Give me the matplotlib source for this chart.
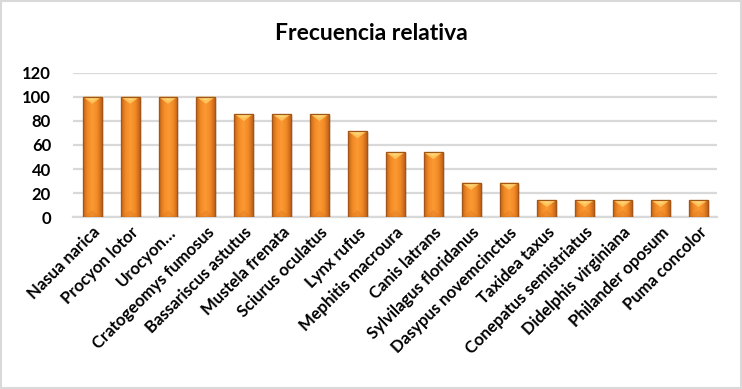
import matplotlib
matplotlib.use("Agg")
import matplotlib.pyplot as plt
import numpy as np
from matplotlib.patches import Polygon, Rectangle
from matplotlib.colors import LinearSegmentedColormap

species = ["Nasua narica", "Procyon lotor", "Urocyon…", "Cratogeomys fumosus",
           "Bassariscus astutus", "Mustela frenata", "Sciurus oculatus", "Lynx rufus",
           "Mephitis macroura", "Canis latrans", "Sylvilagus floridanus",
           "Dasypus novemcinctus", "Taxidea taxus", "Conepatus semistriatus",
           "Didelphis virginiana", "Philander oposum", "Puma concolor"]
values = [100, 100, 100, 100, 85.7, 85.7, 85.7, 71.4, 54, 54, 28.6, 28.6,
          14.3, 14.3, 14.3, 14.3, 14.3]
yticks = [0, 20, 40, 60, 80, 100, 120]
title = "Frecuencia relativa"

plt.rcParams['font.family'] = ['Lato', 'DejaVu Sans']

fig = plt.figure(figsize=(7.42, 3.89), dpi=100)
ax = fig.add_axes([0.0988, 0.4414, 0.868, 0.3717])

x = np.arange(len(species))
bw = 0.5
bars = ax.bar(x, values, width=bw, color="#F7922D", edgecolor="#B5631C",
              linewidth=0.8, zorder=3)

ax.set_xlim(-0.5, len(species) - 0.5)
ax.set_ylim(0, 120)

fig.canvas.draw()
bbox = ax.get_window_extent()
ypp = 120 / bbox.height
xpp = len(species) / bbox.width

cmap = LinearSegmentedColormap.from_list("o", ["#C2641A", "#F38B26", "#FB9A33", "#F38B26", "#C2641A"])
grad = np.linspace(0, 1, 64).reshape(1, -1)
for b in bars:
    bx, by, w, h = b.get_x(), b.get_y(), b.get_width(), b.get_height()
    ax.add_patch(Rectangle((bx + 2 * xpp, by), w, h - 1 * ypp, facecolor="#000000",
                           alpha=0.10, zorder=2, linewidth=0))
    im = ax.imshow(grad, extent=(bx, bx + w, by, by + h), aspect='auto',
                   cmap=cmap, zorder=3.1, interpolation='bicubic')
    im.set_clip_path(b)
    d = 7 * ypp
    ax.add_patch(Polygon([(bx, by + h), (bx + w, by + h), (bx + w / 2, by + h - d)],
                         closed=True, facecolor="#FFC25A", edgecolor="none", zorder=3.2))
    ax.add_patch(Polygon([(bx, by + h), (bx + w, by + h), (bx + w / 2, by + h - d * 0.5)],
                         closed=True, facecolor="#FFD878", edgecolor="none", zorder=3.25))
    ax.add_patch(Polygon([(bx, by), (bx + w, by), (bx + w / 2, by + d)],
                         closed=True, facecolor="#D9761F", alpha=0.35, edgecolor="none", zorder=3.2))
    ax.add_patch(Rectangle((bx, by), w, h, facecolor="none", edgecolor="#A35616",
                           linewidth=0.9, zorder=3.3))

ax.set_yticks(yticks)
ax.set_yticklabels([str(t) for t in yticks], fontsize=12, fontweight='bold')
ax.yaxis.grid(True, color="#D9D9D9", linewidth=1.6, zorder=0)
ax.set_axisbelow(True)
ax.tick_params(axis='y', length=0, pad=16)
ax.tick_params(axis='x', length=0, pad=5)
ax.set_xticks(x)
ax.set_xticklabels(species, rotation=45, ha='right', va='top', rotation_mode='anchor',
                   fontsize=12, fontweight='bold')
for s in ['left', 'right', 'top']:
    ax.spines[s].set_visible(False)
ax.spines['bottom'].set_color("#D9D9D9")
ax.spines['bottom'].set_linewidth(1.6)
ax.spines['bottom'].set_zorder(1)

fig.text(0.5, 1 - 33 / 389, title, ha='center', va='center', fontsize=16.5,
         fontweight='bold', color="#000000")

fig.patches.append(Rectangle((0.001, 0.002), 0.997, 0.995, transform=fig.transFigure,
                             facecolor="none", edgecolor="#D9D9D9", linewidth=1.5))

fig.savefig("out.png", dpi=100)
